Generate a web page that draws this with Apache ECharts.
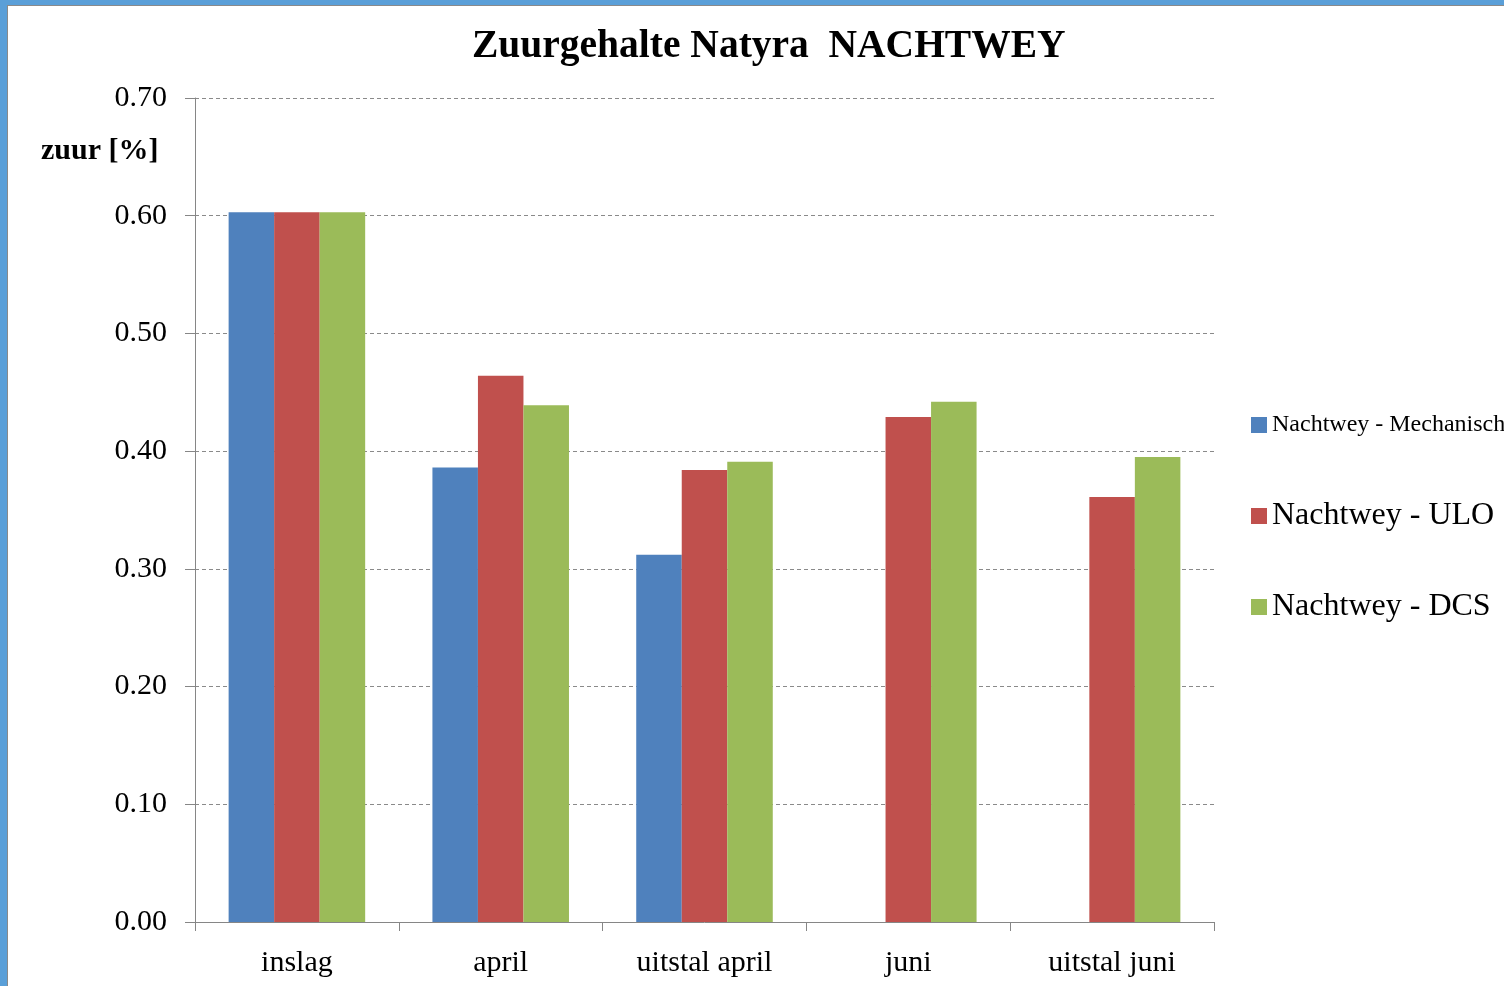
<!DOCTYPE html>
<html>
<head>
<meta charset="utf-8">
<script src="https://cdn.jsdelivr.net/npm/echarts@6/dist/echarts.min.js"></script>
<style>
html, body { margin: 0; padding: 0; }
body { background: #5a9fd8; width: 1504px; height: 986px; overflow: hidden; position: relative; }
#chart { position: absolute; left: 7px; top: 5px; width: 1497px; height: 981px; background: #fff;
         border-left: 1px solid #8a8a8a; border-top: 1px solid #8a8a8a; }
</style>
</head>
<body>
<div id="chart"></div>
<script>
var categories = ['inslag', 'april', 'uitstal april', 'juni', 'uitstal juni'];
var seriesNames = ['Nachtwey - Mechanisch', 'Nachtwey - ULO', 'Nachtwey - DCS'];
var mechanisch = [0.603, 0.386, 0.312, null, null];
var ulo = [0.603, 0.464, 0.384, 0.429, 0.361];
var dcs = [0.603, 0.439, 0.391, 0.442, 0.395];
var colors = ['#4f81bd', '#c0504d', '#9bbb59'];

var font = '"Liberation Serif", "DejaVu Serif", serif';

/* één legenda per reeks, zoals in het origineel met verschillende lettergroottes */
function legendFor(i, top, size) {
    return {
        left: 1238,
        top: top,
        orient: 'vertical',
        icon: 'rect',
        itemWidth: 16,
        itemHeight: 16,
        data: [{ name: seriesNames[i], textStyle: { fontSize: size } }],
        textStyle: { fontFamily: font, color: '#000' }
    };
}

var myChart = echarts.init(document.getElementById('chart'));
var option = {
    animation: false,
    title: [
        {
            text: 'Zuurgehalte Natyra  NACHTWEY',
            left: 459,
            top: 16,
            textStyle: { fontFamily: font, fontSize: 39.5, fontWeight: 'bold', color: '#000' }
        },
        {
            text: 'zuur [%]',
            left: 28,
            top: 125,
            textStyle: { fontFamily: font, fontSize: 30, fontWeight: 'bold', color: '#000' }
        }
    ],
    legend: [
        legendFor(0, 402, 24),
        legendFor(1, 489, 32),
        legendFor(2, 580, 32)
    ],
    grid: { left: 187, right: 291, top: 92, bottom: 65 },
    xAxis: {
        type: 'category',
        data: categories,
        axisLine: { lineStyle: { color: '#868686' } },
        axisTick: { show: true, length: 9, lineStyle: { color: '#868686' } },
        axisLabel: { margin: 26, fontFamily: font, fontSize: 30, color: '#000' }
    },
    yAxis: {
        type: 'value',
        min: 0,
        max: 0.7,
        interval: 0.1,
        axisLine: { show: true, lineStyle: { color: '#868686' } },
        axisTick: { show: true, length: 10, lineStyle: { color: '#868686' } },
        axisLabel: {
            margin: 28, fontFamily: font, fontSize: 30, color: '#000',
            formatter: function (v) { return v.toFixed(2); }
        },
        splitLine: { lineStyle: { color: '#8a8a8a', type: [4, 3] } }
    },
    series: [
        { name: seriesNames[0], type: 'bar', data: mechanisch, barGap: 0, barCategoryGap: '33%', itemStyle: { color: colors[0] } },
        { name: seriesNames[1], type: 'bar', data: ulo, barGap: 0, barCategoryGap: '33%', itemStyle: { color: colors[1] } },
        { name: seriesNames[2], type: 'bar', data: dcs, barGap: 0, barCategoryGap: '33%', itemStyle: { color: colors[2] } }
    ]
};
myChart.setOption(option);
</script>
</body>
</html>
